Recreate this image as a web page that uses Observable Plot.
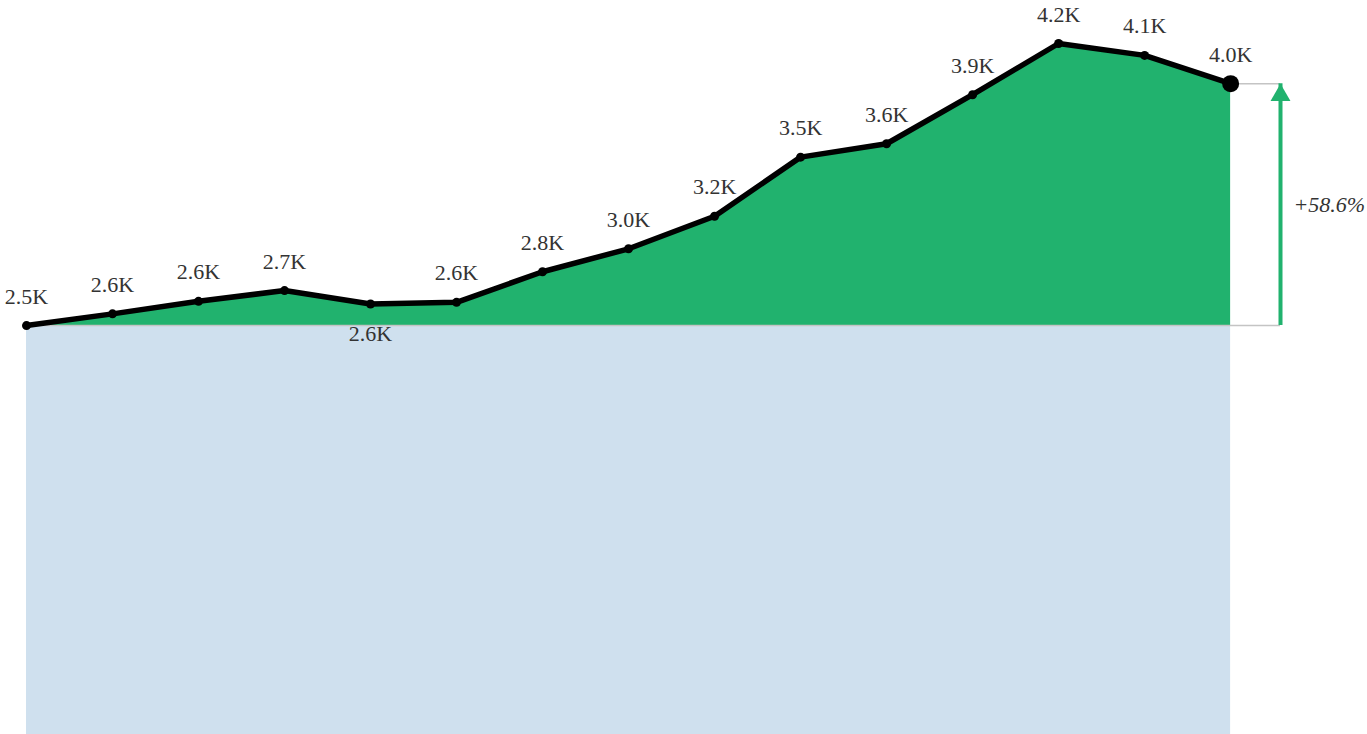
<!DOCTYPE html>
<html>
<head>
<meta charset="utf-8">
<script src="https://cdn.jsdelivr.net/npm/d3@7"></script>
<script src="https://cdn.jsdelivr.net/npm/@observablehq/plot@0.6"></script>
<style>
  html, body { margin: 0; padding: 0; background: #fff; overflow: hidden; }
</style>
</head>
<body>
<div id="chart"></div>
<script>
// Series values (one per period, in order)
const periods = [1, 2, 3, 4, 5, 6, 7, 8, 9, 10, 11, 12, 13, 14, 15];
const values = [2500, 2571, 2647, 2712, 2631, 2641, 2826, 2965, 3162, 3520, 3601, 3898, 4208, 4136, 3965];

const green = "#21b26e";
const blue = "#cfe0ee";
const gray = "#c4c4c4";
const fmt = v => d3.format(".1f")(v / 1000) + "K";

const data = periods.map((p, i) => ({i, period: p, value: values[i]}));
const n = data.length;
const first = values[0];
const last = values[n - 1];
const pct = (last - first) / first;
const arrowGap = 0.58;               // arrow sits a little to the right of the last point
const arrowX = n - 1 + arrowGap;

// a point is labelled below when it is a local minimum
const isLow = d => d.i > 0 && d.i < n - 1 && d.value < values[d.i - 1] && d.value < values[d.i + 1];

const font = "Liberation Serif";

const chart = Plot.plot({
  width: 1367,
  height: 738,
  marginLeft: 26,
  marginRight: 87,
  marginTop: 43,
  marginBottom: 0,
  x: {domain: [0, arrowX], axis: null},
  y: {domain: [0, d3.max(values)], axis: null},
  style: {fontFamily: font, fontSize: "22px", color: "#333", background: "#fff"},
  marks: [
    Plot.areaY(data, {x: "i", y1: 0, y2: first, fill: blue}),
    Plot.areaY(data, {x: "i", y1: first, y2: "value", fill: green}),
    Plot.ruleY([first], {x1: 0, x2: arrowX, stroke: gray, strokeWidth: 1.5}),
    Plot.ruleY([last], {x1: n - 1, x2: arrowX, stroke: gray, strokeWidth: 1.5}),
    Plot.ruleX([arrowX], {y1: first, y2: last, stroke: green, strokeWidth: 4}),
    Plot.dot([arrowX], {x: d => d, y: () => last, symbol: "triangle", r: 7.4, dy: 11.5, fill: green, stroke: "none"}),
    Plot.text([pct], {x: () => arrowX, y: () => (first + last) / 2, text: d => (d >= 0 ? "+" : "") + d3.format(".1%")(d), textAnchor: "start", dx: 13, fontStyle: "italic", fill: "#333", fontSize: 22, fontFamily: font}),
    Plot.line(data, {x: "i", y: "value", stroke: "#000", strokeWidth: 5.5, strokeLinejoin: "round", strokeLinecap: "round"}),
    Plot.dot(data.slice(0, n - 1), {x: "i", y: "value", r: 4.5, fill: "#000"}),
    Plot.dot(data.slice(n - 1), {x: "i", y: "value", r: 8.5, fill: "#000"}),
    Plot.text(data.filter(d => !isLow(d)), {x: "i", y: "value", text: d => fmt(d.value), dy: -29, fill: "#333", fontSize: 22, fontFamily: font}),
    Plot.text(data.filter(isLow), {x: "i", y: "value", text: d => fmt(d.value), dy: 30, fill: "#333", fontSize: 22, fontFamily: font})
  ]
});
document.getElementById("chart").appendChild(chart);
</script>
</body>
</html>
